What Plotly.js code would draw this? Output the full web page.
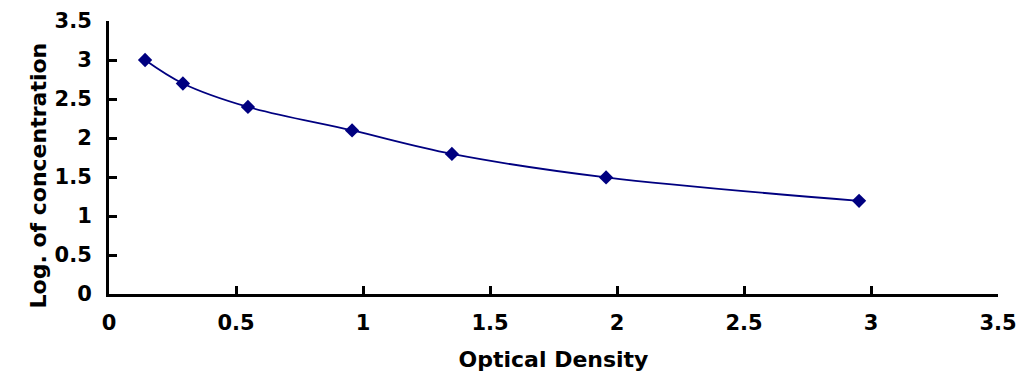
<!DOCTYPE html>
<html><head><meta charset="utf-8">
<script src="https://cdn.plot.ly/plotly-3.0.1.min.js"></script>
<style>html,body{margin:0;padding:0;background:#fff;}#c{width:1027px;height:386px;}</style>
</head><body><div id="c"></div>
<script>
var opticalDensity = [0.142, 0.291, 0.547, 0.957, 1.35, 1.957, 2.953];
var logConcentration = [3.0, 2.699, 2.398, 2.097, 1.796, 1.495, 1.194];
var xTicks = [0, 0.5, 1, 1.5, 2, 2.5, 3, 3.5];
var yTicks = [0, 0.5, 1, 1.5, 2, 2.5, 3, 3.5];
var xTitle = 'Optical Density';
var yTitle = 'Log. of concentration';

var fontFam = 'DejaVu Sans, sans-serif';
var trace = {
  x: opticalDensity, y: logConcentration,
  type: 'scatter', mode: 'lines+markers',
  line: {shape: 'spline', color: '#000080', width: 1.8, smoothing: 1},
  marker: {symbol: 'diamond', size: 11, color: '#000080'},
  hoverinfo: 'none'
};
var axisCommon = {
  showgrid: false, zeroline: false, showline: true, linecolor: '#000', linewidth: 3,
  ticks: 'inside', ticklen: 8, tickwidth: 3, tickcolor: '#000',
  tickfont: {family: fontFam, size: 21, color: '#000', weight: 'bold'},
  tickmode: 'array'
};
var layout = {
  width: 1027, height: 386,
  margin: {l: 109, r: 29, t: 21, b: 92},
  paper_bgcolor: '#fff', plot_bgcolor: '#fff',
  showlegend: false,
  xaxis: Object.assign({}, axisCommon, {
    range: [0, 3.5], tickvals: xTicks, ticktext: xTicks.map(String),
    ticklabelstandoff: 8,
    title: {text: '<b>' + xTitle + '</b>', font: {family: fontFam, size: 22, color: '#000'}, standoff: 18}
  }),
  yaxis: Object.assign({}, axisCommon, {
    range: [0, 3.5], tickvals: yTicks, ticktext: yTicks.map(String),
    ticklabelstandoff: 10
  }),
  annotations: [{
    text: '<b>' + yTitle + '</b>', textangle: -90, showarrow: false,
    xref: 'paper', yref: 'paper', x: 0, y: 0.5, xanchor: 'center', yanchor: 'middle',
    xshift: -71, yshift: -18,
    font: {family: fontFam, size: 22, color: '#000'}
  }]
};
Plotly.newPlot('c', [trace], layout, {staticPlot: true, displayModeBar: false});
</script></body></html>
